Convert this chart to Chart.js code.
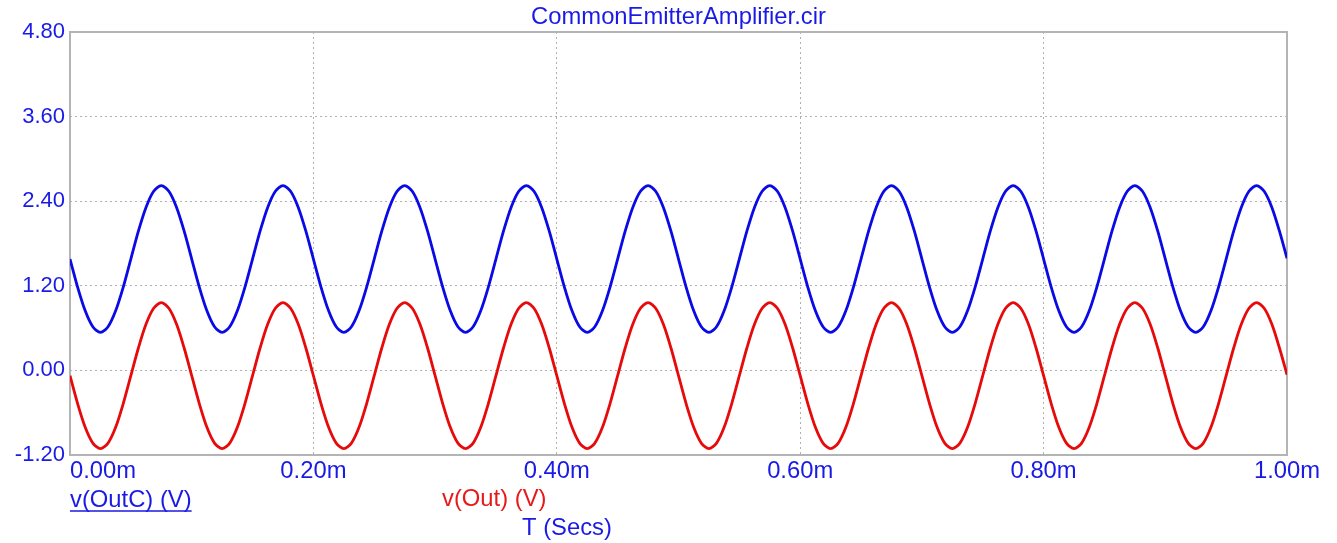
<!DOCTYPE html>
<html>
<head>
<meta charset="utf-8">
<script src="https://cdn.jsdelivr.net/npm/chart.js@4/dist/chart.umd.min.js"></script>
<style>
	html, body { margin: 0; padding: 0; background: #fff; }
	#wrap { width: 1337px; height: 543px; position: relative; }
</style>
</head>
<body>
<div id="wrap"><canvas id="plot"></canvas></div>
<script>
// time in ms, one sample every 0.00625 ms (16 per 0.1 ms cycle)
const timeMs = [];
for (let k = 0; k <= 160; k++) timeMs.push(k * 0.00625);

// v(OutC)
const vOutC = [
	1.58, 1.182, 0.845, 0.619, 0.54, 0.619, 0.845, 1.182, 1.58, 1.978, 2.315, 2.541, 2.62, 2.541, 2.315, 1.978,
	1.58, 1.182, 0.845, 0.619, 0.54, 0.619, 0.845, 1.182, 1.58, 1.978, 2.315, 2.541, 2.62, 2.541, 2.315, 1.978,
	1.58, 1.182, 0.845, 0.619, 0.54, 0.619, 0.845, 1.182, 1.58, 1.978, 2.315, 2.541, 2.62, 2.541, 2.315, 1.978,
	1.58, 1.182, 0.845, 0.619, 0.54, 0.619, 0.845, 1.182, 1.58, 1.978, 2.315, 2.541, 2.62, 2.541, 2.315, 1.978,
	1.58, 1.182, 0.845, 0.619, 0.54, 0.619, 0.845, 1.182, 1.58, 1.978, 2.315, 2.541, 2.62, 2.541, 2.315, 1.978,
	1.58, 1.182, 0.845, 0.619, 0.54, 0.619, 0.845, 1.182, 1.58, 1.978, 2.315, 2.541, 2.62, 2.541, 2.315, 1.978,
	1.58, 1.182, 0.845, 0.619, 0.54, 0.619, 0.845, 1.182, 1.58, 1.978, 2.315, 2.541, 2.62, 2.541, 2.315, 1.978,
	1.58, 1.182, 0.845, 0.619, 0.54, 0.619, 0.845, 1.182, 1.58, 1.978, 2.315, 2.541, 2.62, 2.541, 2.315, 1.978,
	1.58, 1.182, 0.845, 0.619, 0.54, 0.619, 0.845, 1.182, 1.58, 1.978, 2.315, 2.541, 2.62, 2.541, 2.315, 1.978,
	1.58, 1.182, 0.845, 0.619, 0.54, 0.619, 0.845, 1.182, 1.58, 1.978, 2.315, 2.541, 2.62, 2.541, 2.315, 1.978,
	1.59,
];

// v(Out)
const vOut = [
	-0.075, -0.471, -0.807, -1.031, -1.11, -1.031, -0.807, -0.471, -0.075, 0.321, 0.657, 0.881, 0.96, 0.881, 0.657, 0.321,
	-0.075, -0.471, -0.807, -1.031, -1.11, -1.031, -0.807, -0.471, -0.075, 0.321, 0.657, 0.881, 0.96, 0.881, 0.657, 0.321,
	-0.075, -0.471, -0.807, -1.031, -1.11, -1.031, -0.807, -0.471, -0.075, 0.321, 0.657, 0.881, 0.96, 0.881, 0.657, 0.321,
	-0.075, -0.471, -0.807, -1.031, -1.11, -1.031, -0.807, -0.471, -0.075, 0.321, 0.657, 0.881, 0.96, 0.881, 0.657, 0.321,
	-0.075, -0.471, -0.807, -1.031, -1.11, -1.031, -0.807, -0.471, -0.075, 0.321, 0.657, 0.881, 0.96, 0.881, 0.657, 0.321,
	-0.075, -0.471, -0.807, -1.031, -1.11, -1.031, -0.807, -0.471, -0.075, 0.321, 0.657, 0.881, 0.96, 0.881, 0.657, 0.321,
	-0.075, -0.471, -0.807, -1.031, -1.11, -1.031, -0.807, -0.471, -0.075, 0.321, 0.657, 0.881, 0.96, 0.881, 0.657, 0.321,
	-0.075, -0.471, -0.807, -1.031, -1.11, -1.031, -0.807, -0.471, -0.075, 0.321, 0.657, 0.881, 0.96, 0.881, 0.657, 0.321,
	-0.075, -0.471, -0.807, -1.031, -1.11, -1.031, -0.807, -0.471, -0.075, 0.321, 0.657, 0.881, 0.96, 0.881, 0.657, 0.321,
	-0.075, -0.471, -0.807, -1.031, -1.11, -1.031, -0.807, -0.471, -0.075, 0.321, 0.657, 0.881, 0.96, 0.881, 0.657, 0.321,
	-0.06,
];

const xTicks = [0, 0.2, 0.4, 0.6, 0.8, 1.0];
const xTickLabels = ["0.00m", "0.20m", "0.40m", "0.60m", "0.80m", "1.00m"];

const blueText = "#1a1ae6";
const redText = "#e61a1a";
const fontFam = "'Liberation Sans', Arial, sans-serif";

function toPoints(values) {
	return values.map((v, i) => ({ x: timeMs[i], y: v }));
}

// ---------------------------------------- Frame + Texts ----------------------------------------

const framePlugin = {
	id: "frame",
	beforeDatasetsDraw(chart) {
		const a = chart.chartArea;
		const ctx = chart.ctx;
		ctx.save();
		ctx.strokeStyle = "#b4b4b4";
		ctx.lineWidth = 2;
		ctx.strokeRect(a.left, a.top, a.right - a.left, a.bottom - a.top);
		ctx.restore();
	},
};

const textPlugin = {
	id: "texts",
	afterDraw(chart) {
		const ctx = chart.ctx;
		const a = chart.chartArea;
		const xs = chart.scales.x;
		ctx.save();
		ctx.font = "23.8px " + fontFam;
		ctx.textBaseline = "alphabetic";

		// title
		ctx.fillStyle = blueText;
		ctx.textAlign = "center";
		ctx.fillText("CommonEmitterAmplifier.cir", (a.left + a.right) / 2, 24);

		// x tick labels
		xTicks.forEach((t, i) => {
			const px = xs.getPixelForValue(t);
			ctx.textAlign = i === 0 ? "left" : "center";
			ctx.fillText(xTickLabels[i], i === 0 ? a.left : px, 478);
		});

		// legend entries
		ctx.textAlign = "left";
		ctx.fillText("v(OutC) (V)", 70, 507);
		const w = ctx.measureText("v(OutC) (V)").width;
		ctx.strokeStyle = blueText;
		ctx.lineWidth = 1.5;
		ctx.beginPath();
		ctx.moveTo(70, 511);
		ctx.lineTo(70 + w, 511);
		ctx.stroke();

		ctx.fillStyle = redText;
		ctx.fillText("v(Out) (V)", 442, 506);

		ctx.fillStyle = blueText;
		ctx.fillText("T (Secs)", 522, 535);
		ctx.restore();
	},
};

// ---------------------------------------- Transient Graph ----------------------------------------

const graph = new Chart(document.getElementById("plot"), {
	type: "line",
	data: {
		datasets: [
			{
				label: "v(OutC) (V)",
				data: toPoints(vOutC),
				borderColor: "#0a0ae6",
				borderWidth: 2.8,
				pointRadius: 0,
				tension: 0.3,
			},
			{
				label: "v(Out) (V)",
				data: toPoints(vOut),
				borderColor: "#e60a0a",
				borderWidth: 2.8,
				pointRadius: 0,
				tension: 0.3,
			},
		],
	},
	options: {
		responsive: true,
		maintainAspectRatio: false,
		animation: false,
		layout: {
			padding: { top: 32, right: 50, left: 0, bottom: 0 },
		},
		plugins: {
			legend: { display: false },
			title: { display: false },
			tooltip: { enabled: false },
		},
		scales: {
			x: {
				type: "linear",
				min: 0,
				max: 1,
				afterFit: (s) => { s.height = 88; },
				ticks: { stepSize: 0.2, display: false },
				grid: { color: "#b0b0b0", lineWidth: 1, drawTicks: false },
				border: { display: false, dash: [2, 3] },
			},
			y: {
				min: -1.2,
				max: 4.8,
				afterFit: (s) => { s.width = 70; },
				ticks: {
					stepSize: 1.2,
					padding: 5,
					color: blueText,
					font: { family: fontFam, size: 22 },
					callback: (v) => (Math.abs(v) < 1e-9 ? 0 : v).toFixed(2),
				},
				grid: { color: "#b0b0b0", lineWidth: 1, drawTicks: false },
				border: { display: false, dash: [2, 3] },
			},
		},
	},
	plugins: [framePlugin, textPlugin],
});
</script>
</body>
</html>
